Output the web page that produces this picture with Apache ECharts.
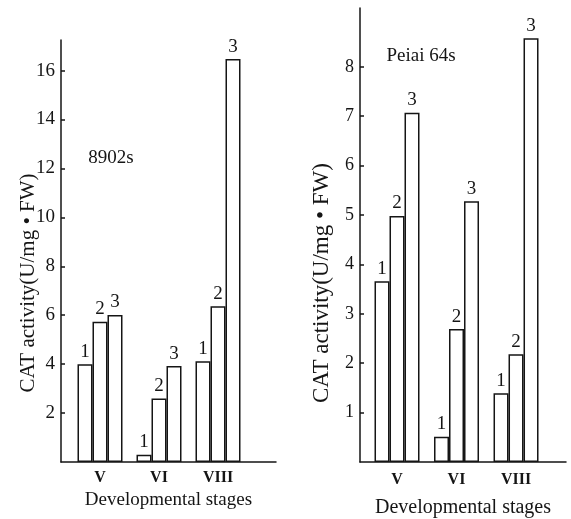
<!DOCTYPE html>
<html>
<head>
<meta charset="utf-8">
<script src="https://cdn.jsdelivr.net/npm/echarts@6/dist/echarts.min.js"></script>
<style>html,body{margin:0;padding:0;background:#fff;}#c{width:571px;height:519px;}</style>
</head>
<body>
<div id="c"></div>
<script>
var stages = ['V', 'VI', 'VIII'];
var seriesNames = ['1', '2', '3'];
// 8902s
var left1 = [4.0, 0.3, 4.12];
var left2 = [5.73, 2.6, 6.37];
var left3 = [6.01, 3.92, 16.47];
// Peiai 64s
var right1 = [3.66, 0.51, 1.39];
var right2 = [4.98, 2.69, 2.18];
var right3 = [7.07, 5.28, 8.58];
var leftTicks = [2, 4, 6, 8, 10, 12, 14, 16];
var rightTicks = [1, 2, 3, 4, 5, 6, 7, 8];
var stagePos = [1, 2, 3];

var FONT = '"Liberation Serif", "DejaVu Serif", serif';
var INK = '#151515';

function pts(vals) { return vals.map(function (v, i) { return [stagePos[i], v]; }); }

function xAxisCfg(gi, min, max, nameGap, nameSize, labelMargin) {
  return {
    type: 'value', gridIndex: gi, min: min, max: max,
    name: 'Developmental stages', nameLocation: 'middle', nameGap: nameGap,
    nameTextStyle: { fontFamily: FONT, fontSize: nameSize, color: INK },
    axisLine: { show: true, lineStyle: { color: INK, width: 1.5 } },
    axisTick: { show: false },
    splitLine: { show: false },
    axisLabel: {
      customValues: stagePos, margin: labelMargin,
      fontFamily: FONT, fontSize: 16, fontWeight: 'bold', color: INK,
      formatter: function (v) { return stages[Math.round(v) - 1] || ''; }
    }
  };
}
function yAxisCfg(gi, max, ticks, size) {
  return {
    type: 'value', gridIndex: gi, min: 0, max: max,
    axisLine: { show: true, lineStyle: { color: INK, width: 1.5 } },
    axisTick: { show: true, inside: true, length: 4, customValues: ticks, lineStyle: { color: INK, width: 1.5 } },
    splitLine: { show: false },
    axisLabel: { customValues: ticks, margin: 6, fontFamily: FONT, fontSize: size, color: INK }
  };
}
function barSeries(gi, name, vals) {
  return {
    type: 'bar', name: name, xAxisIndex: gi, yAxisIndex: gi,
    data: pts(vals), barWidth: 15, barGap: '0%',
    itemStyle: { color: '#fff', borderColor: INK, borderWidth: 1.5 },
    label: { show: true, position: 'top', distance: 3, formatter: name, fontFamily: FONT, fontSize: 19, color: INK },
    silent: true, animation: false
  };
}

var chart = echarts.init(document.getElementById('c'), null, { renderer: 'canvas' });
chart.setOption({
  animation: false,
  backgroundColor: '#fff',
  grid: [
    { left: 61, top: 40, width: 215, height: 422, outerBoundsMode: 'none', containLabel: false },
    { left: 360, top: 8, width: 206, height: 454, outerBoundsMode: 'none', containLabel: false }
  ],
  xAxis: [
    xAxisCfg(0, 0.339, 3.983, 29, 19, 8),
    xAxisCfg(1, 0.378, 3.84, 36, 20, 10)
  ],
  yAxis: [
    yAxisCfg(0, 17.25, leftTicks, 19),
    yAxisCfg(1, 9.19, rightTicks, 18)
  ],
  series: [
    barSeries(0, seriesNames[0], left1),
    barSeries(0, seriesNames[1], left2),
    barSeries(0, seriesNames[2], left3),
    barSeries(1, seriesNames[0], right1),
    barSeries(1, seriesNames[1], right2),
    barSeries(1, seriesNames[2], right3)
  ],
  graphic: [
    { type: 'text', x: 28, y: 283, rotation: Math.PI / 2,
      style: { text: 'CAT activity(U/mg • FW)', font: '21px ' + FONT, fill: INK, align: 'center', verticalAlign: 'middle', textAlign: 'center', textVerticalAlign: 'middle' } },
    { type: 'text', x: 322, y: 283, rotation: Math.PI / 2,
      style: { text: 'CAT activity(U/mg • FW)', font: '23px ' + FONT, fill: INK, align: 'center', verticalAlign: 'middle', textAlign: 'center', textVerticalAlign: 'middle' } },
    { type: 'text', x: 111, y: 158,
      style: { text: '8902s', font: '19px ' + FONT, fill: INK, align: 'center', verticalAlign: 'middle', textAlign: 'center', textVerticalAlign: 'middle' } },
    { type: 'text', x: 421, y: 56,
      style: { text: 'Peiai 64s', font: '19px ' + FONT, fill: INK, align: 'center', verticalAlign: 'middle', textAlign: 'center', textVerticalAlign: 'middle' } }
  ]
});
</script>
</body>
</html>
